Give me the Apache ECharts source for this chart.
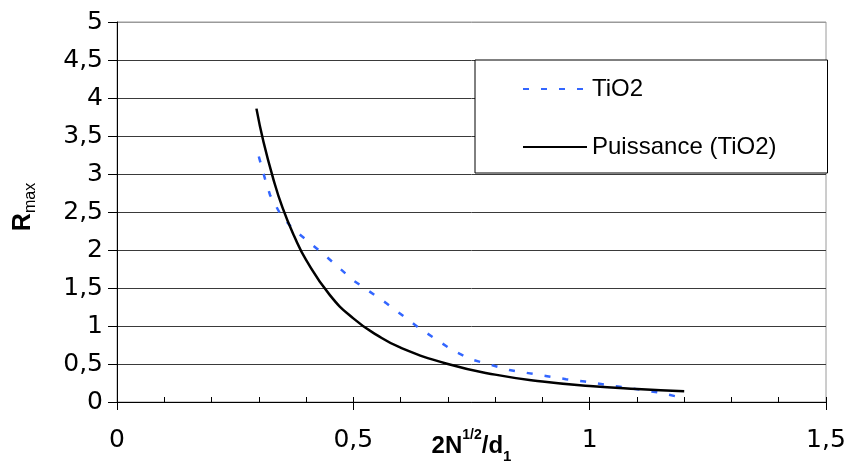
<!DOCTYPE html>
<html>
<head>
<meta charset="utf-8">
<script src="https://cdn.jsdelivr.net/npm/echarts@6/dist/echarts.min.js"></script>
<style>
html,body{margin:0;padding:0;background:#fff;}
#chart{width:851px;height:462px;}
</style>
</head>
<body>
<div id="chart"></div>
<script>
const tio2X = [0.30, 0.313, 0.324, 0.345, 0.37, 0.44, 0.50, 0.57, 0.64, 0.71, 0.75, 0.79, 0.83, 0.87, 0.91, 0.95, 0.99, 1.03, 1.12, 1.15, 1.20];
const tio2Y = [3.23, 2.94, 2.72, 2.48, 2.29, 1.93, 1.60, 1.30, 0.97, 0.68, 0.56, 0.49, 0.42, 0.38, 0.34, 0.30, 0.27, 0.23, 0.15, 0.12, 0.05];
// Power trend line "Puissance (TiO2)"
const fitX = [0.295, 0.31, 0.33, 0.35, 0.375, 0.40, 0.45, 0.50, 0.55, 0.60, 0.70, 0.80, 0.90, 1.00, 1.10, 1.20];
const fitY = [3.86, 3.42, 2.95, 2.56, 2.18, 1.87, 1.41, 1.10, 0.88, 0.715, 0.50, 0.36, 0.27, 0.21, 0.17, 0.14];
const seriesNames = ['TiO2', 'Puissance (TiO2)'];
const yTickValues = [0, 0.5, 1, 1.5, 2, 2.5, 3, 3.5, 4, 4.5, 5];
const xTickValues = [0, 0.5, 1, 1.5];

const fmt = v => String(v).replace('.', ',');
const FONT = 'Liberation Sans, Arial, sans-serif';
const TICKFONT = 'DejaVu Sans, Liberation Sans, sans-serif';
const gridLineColors = yTickValues.map((v, i) => i === yTickValues.length - 1 ? '#9a9a9a' : '#3a3a3a');

const chart = echarts.init(document.getElementById('chart'), null, {renderer: 'canvas'});
const option = {
  animation: false,
  backgroundColor: '#ffffff',
  grid: {left: 117, right: 25, top: 22, bottom: 60, containLabel: false, outerBoundsMode: 'none',
         show: true, borderColor: '#9a9a9a', borderWidth: 1, backgroundColor: 'transparent'},
  legend: {
    data: seriesNames,
    orient: 'vertical',
    left: 475, top: 60,
    padding: [17, 51, 14, 47],
    itemWidth: 64, itemHeight: 14,
    itemGap: 34,
    itemStyle: {opacity: 0},
    backgroundColor: '#ffffff',
    borderColor: '#000000', borderWidth: 1,
    textStyle: {fontFamily: FONT, fontSize: 24, color: '#000', lineHeight: 24}
  },
  xAxis: [{
    type: 'value', min: xTickValues[0], max: xTickValues[xTickValues.length - 1], interval: 0.5,
    name: '{b|2N}{sup|1/2}{b|/d}{sub|1}',
    nameLocation: 'middle', nameGap: 26, nameMoveOverlap: false,
    nameTextStyle: {
      verticalAlign: 'top',
      rich: {
        b: {fontFamily: FONT, fontSize: 24, fontWeight: 'bold', color: '#000', lineHeight: 36, verticalAlign: 'middle'},
        sup: {fontFamily: FONT, fontSize: 14, fontWeight: 'bold', color: '#000', lineHeight: 14, verticalAlign: 'top'},
        sub: {fontFamily: FONT, fontSize: 15, fontWeight: 'bold', color: '#000', lineHeight: 12, verticalAlign: 'bottom'}
      }
    },
    axisLine: {show: true, onZero: false, lineStyle: {color: '#000', width: 1}},
    axisTick: {show: true, inside: false, length: 8, lineStyle: {color: '#000'}},
    axisLabel: {formatter: fmt, fontFamily: TICKFONT, fontSize: 25, color: '#000', margin: 26},
    splitLine: {show: false}
  }, {
    type: 'value', min: xTickValues[0], max: xTickValues[xTickValues.length - 1], interval: 0.5,
    position: 'bottom',
    axisLine: {show: false},
    axisTick: {show: true, inside: true, length: 5, lineStyle: {color: '#000'}},
    minorTick: {show: true, splitNumber: 5, length: 5, lineStyle: {color: '#000'}},
    axisLabel: {show: false},
    splitLine: {show: false}
  }],
  yAxis: {
    type: 'value', min: yTickValues[0], max: yTickValues[yTickValues.length - 1], interval: 0.5,
    name: '{r|R}{sub|max}',
    nameLocation: 'middle', nameGap: 78, nameRotate: 90, nameMoveOverlap: false,
    nameTextStyle: {
      padding: [0, 0, 0, 10],
      rich: {
        r: {fontFamily: FONT, fontSize: 25, fontWeight: 'bold', color: '#000', lineHeight: 28, verticalAlign: 'top'},
        sub: {fontFamily: FONT, fontSize: 16, color: '#000', lineHeight: 14, verticalAlign: 'bottom'}
      }
    },
    axisLine: {show: true, onZero: false, lineStyle: {color: '#000', width: 1}},
    axisTick: {show: true, inside: false, length: 9, lineStyle: {color: '#000'}},
    axisLabel: {formatter: fmt, fontFamily: TICKFONT, fontSize: 25, color: '#000', margin: 14},
    splitLine: {show: true, lineStyle: {color: gridLineColors, width: 1}}
  },
  series: [{
    name: seriesNames[0], type: 'line', xAxisIndex: 0,
    data: tio2X.map((x, i) => [x, tio2Y[i]]),
    symbol: 'none', smooth: false,
    lineStyle: {color: '#3366ff', width: 2.5, type: [6, 12]},
    itemStyle: {color: '#3366ff'},
    z: 3
  }, {
    name: seriesNames[1], type: 'line', xAxisIndex: 0,
    data: fitX.map((x, i) => [x, fitY[i]]),
    symbol: 'none', smooth: true,
    lineStyle: {color: '#000000', width: 2.5, type: 'solid'},
    itemStyle: {color: '#000000'},
    z: 4
  }]
};
chart.setOption(option);
</script>
</body>
</html>
